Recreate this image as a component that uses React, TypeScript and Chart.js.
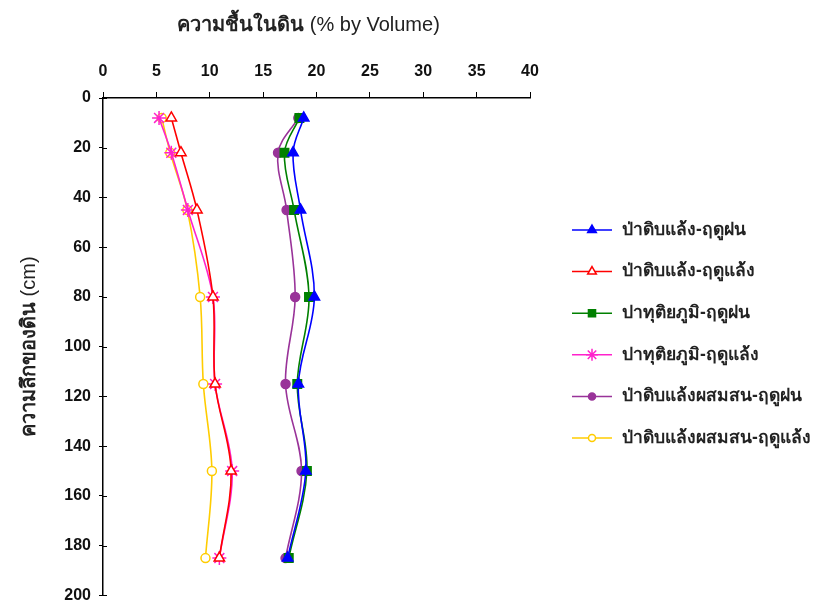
import React, { useEffect, useRef } from 'react';
import { Chart, registerables } from 'chart.js';
import { drawPoint } from 'chart.js/helpers';

Chart.register(...registerables);

// Depth (cm) of each measurement
const depths = [8, 22, 45, 80, 115, 150, 185];

// Soil moisture (% by volume) per series
const dryEvergreenRain = [18.8, 17.8, 18.5, 19.8, 18.3, 19.0, 17.3];
const dryEvergreenDry = [6.4, 7.3, 8.8, 10.3, 10.5, 12.0, 10.9];
const secondaryRain = [18.4, 17.0, 17.9, 19.3, 18.2, 19.1, 17.4];
const secondaryDry = [5.25, 6.4, 7.95, 10.3, 10.5, 12.1, 10.9];
const mixedRain = [18.3, 16.4, 17.2, 18.0, 17.1, 18.6, 17.1];
const mixedDry = [5.5, 6.3, 7.9, 9.1, 9.4, 10.2, 9.6];

const seriesNames = [
  'ป่าดิบแล้ง-ฤดูฝน',
  'ป่าดิบแล้ง-ฤดูแล้ง',
  'ปาทุติยภูมิ-ฤดูฝน',
  'ปาทุติยภูมิ-ฤดูแล้ง',
  'ป่าดิบแล้งผสมสน-ฤดูฝน',
  'ป่าดิบแล้งผสมสน-ฤดูแล้ง',
];

const xTitleThai = 'ความชื้นในดิน';
const xTitleUnit = ' (% by Volume)';
const yTitleThai = 'ความลึกของดิน';
const yTitleUnit = ' (cm)';

const FONT = "Arial, 'Liberation Sans', 'Noto Sans', sans-serif";

const toPoints = (vals: number[]) => vals.map((v, i) => ({ x: v, y: depths[i] }));

const styles = [
  { color: '#0000FF', pointStyle: 'triangle', fill: '#0000FF', radius: 6 },
  { color: '#FF0000', pointStyle: 'triangle', fill: '#FFFFFF', radius: 6 },
  { color: '#008000', pointStyle: 'rect', fill: '#008000', radius: 6 },
  { color: '#FF22CC', pointStyle: 'star', fill: '#FF22CC', radius: 7 },
  { color: '#993399', pointStyle: 'circle', fill: '#993399', radius: 4.5 },
  { color: '#FFCC00', pointStyle: 'circle', fill: '#FFFFFF', radius: 4.5 },
];

const seriesValues = [dryEvergreenRain, dryEvergreenDry, secondaryRain, secondaryDry, mixedRain, mixedDry];

function drawMixedTitle(ctx: CanvasRenderingContext2D, boldPart: string, normalPart: string, cx: number, cy: number, rotate: boolean) {
  ctx.save();
  ctx.translate(cx, cy);
  if (rotate) ctx.rotate(-Math.PI / 2);
  const boldFont = `bold 20px ${FONT}`;
  const normFont = `20px ${FONT}`;
  ctx.font = boldFont;
  const w1 = ctx.measureText(boldPart).width;
  ctx.font = normFont;
  const w2 = ctx.measureText(normalPart).width;
  const start = -(w1 + w2) / 2;
  ctx.fillStyle = '#222222';
  ctx.textBaseline = 'middle';
  ctx.textAlign = 'left';
  ctx.font = boldFont;
  ctx.fillText(boldPart, start, 0);
  ctx.font = normFont;
  ctx.fillText(normalPart, start + w1, 0);
  ctx.restore();
}

const titlePlugin = {
  id: 'mixedTitles',
  afterDraw(chart: any) {
    const ctx = chart.ctx;
    const area = chart.chartArea;
    drawMixedTitle(ctx, xTitleThai, xTitleUnit, (area.left + area.right) / 2 - 8, 25, false);
    drawMixedTitle(ctx, yTitleThai, yTitleUnit, 29, (area.top + area.bottom) / 2, true);
  },
};

const legendPlugin = {
  id: 'customLegend',
  afterDraw(chart: any) {
    const ctx = chart.ctx;
    chart.data.datasets.forEach((ds: any, i: number) => {
      const st = styles[i];
      const y = 230 + i * 41.6;
      ctx.save();
      ctx.strokeStyle = st.color;
      ctx.lineWidth = 1.5;
      ctx.beginPath();
      ctx.moveTo(572, y);
      ctx.lineTo(612, y);
      ctx.stroke();
      ctx.fillStyle = st.fill;
      ctx.strokeStyle = st.color;
      ctx.lineWidth = 1.5;
      drawPoint(ctx, { pointStyle: st.pointStyle, rotation: 0, radius: st.radius - 1, borderWidth: 1.5 } as any, 592, y);
      ctx.fillStyle = '#222222';
      ctx.font = `bold 17.5px ${FONT}`;
      ctx.textBaseline = 'middle';
      ctx.textAlign = 'left';
      ctx.fillText(ds.label, 622, y);
      ctx.restore();
    });
  },
};

const crossTickPlugin = {
  id: 'crossTicks',
  afterDraw(chart: any) {
    const ctx = chart.ctx;
    const ys = chart.scales.y;
    ctx.save();
    ctx.strokeStyle = '#000';
    ctx.lineWidth = 1;
    ys.ticks.forEach((t: any) => {
      const py = Math.round(ys.getPixelForValue(t.value)) + 0.5;
      ctx.beginPath();
      ctx.moveTo(ys.right, py);
      ctx.lineTo(ys.right + 4, py);
      ctx.stroke();
    });
    ctx.restore();
  },
};

export default function App() {
  const ref = useRef<HTMLCanvasElement>(null);
  useEffect(() => {
    if (!ref.current) return;
    const chart = new Chart(ref.current, {
      type: 'scatter',
      data: {
        datasets: seriesValues.map((vals, i) => ({
          label: seriesNames[i],
          data: toPoints(vals),
          showLine: true,
          borderColor: styles[i].color,
          backgroundColor: styles[i].fill,
          pointBorderColor: styles[i].color,
          pointBackgroundColor: styles[i].fill,
          pointStyle: styles[i].pointStyle as any,
          pointRadius: styles[i].radius,
          pointBorderWidth: 1.5,
          borderWidth: 1.6,
          tension: 0.35,
        })),
      },
      options: {
        animation: false,
        responsive: false,
        maintainAspectRatio: false,
        layout: { padding: { left: 0, right: 286, top: 0, bottom: 10 } },
        plugins: { legend: { display: false }, tooltip: { enabled: false } },
        scales: {
          x: {
            type: 'linear',
            position: 'top',
            min: 0,
            max: 40,
            ticks: { stepSize: 5, color: '#111', font: { family: FONT, size: 16, weight: 'bold' }, padding: 11 },
            grid: { drawOnChartArea: false, drawTicks: true, tickLength: 6, color: '#000' },
            border: { color: '#000', width: 1.5 },
            title: { display: false },
            afterFit: (s: any) => { s.height = 98; },
          },
          y: {
            type: 'linear',
            reverse: true,
            min: 0,
            max: 200,
            ticks: { stepSize: 20, color: '#111', font: { family: FONT, size: 16, weight: 'bold' }, padding: 8 },
            grid: { drawOnChartArea: false, drawTicks: true, tickLength: 4, color: '#000' },
            border: { color: '#000', width: 1.5 },
            title: { display: false },
            afterFit: (s: any) => { s.width = 103; },
          },
        },
      } as any,
      plugins: [legendPlugin, crossTickPlugin, titlePlugin],
    });
    return () => chart.destroy();
  }, []);
  return (
    <div style={{ position: 'absolute', left: 0, top: 0, width: 816, height: 613, background: '#fff' }}>
      <canvas ref={ref} width={816} height={613} />
    </div>
  );
}
